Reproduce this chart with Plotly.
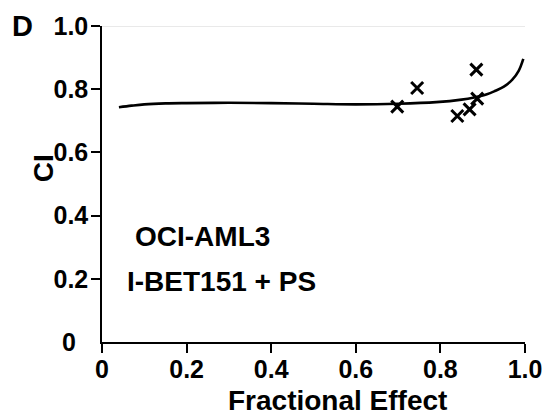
import plotly.graph_objects as go

# Combination index curve (fraction affected vs CI)
curve_fa = [0.04, 0.07, 0.10, 0.15, 0.20, 0.30, 0.40, 0.50, 0.60, 0.70,
            0.79, 0.85, 0.88, 0.91, 0.93, 0.95, 0.97, 0.985, 0.996]
curve_ci = [0.743, 0.748, 0.752, 0.755, 0.756, 0.757, 0.756, 0.754, 0.752, 0.754,
            0.759, 0.767, 0.774, 0.784, 0.795, 0.808, 0.830, 0.858, 0.896]

# Measured combination points
point_fa = [0.698, 0.745, 0.840, 0.869, 0.885, 0.887]
point_ci = [0.745, 0.804, 0.715, 0.736, 0.862, 0.770]

tick_vals = [0.2, 0.4, 0.6, 0.8, 1.0]
tick_text = ["0.2", "0.4", "0.6", "0.8", "1.0"]

FONT = "Liberation Sans, Arial, sans-serif"

fig = go.Figure()
fig.add_trace(go.Scatter(
    x=curve_fa, y=curve_ci, mode="lines",
    line=dict(color="black", width=2.6, shape="spline"),
    cliponaxis=False, showlegend=False, hoverinfo="skip",
))
fig.add_trace(go.Scatter(
    x=point_fa, y=point_ci, mode="markers",
    marker=dict(symbol="x-thin-open", size=12, color="black",
                line=dict(color="black", width=3)),
    cliponaxis=False, showlegend=False,
))

axis_common = dict(
    range=[0, 1], showgrid=False, zeroline=False,
    showline=True, linecolor="black", linewidth=1.5,
    ticks="outside", ticklen=9, tickwidth=1.5, tickcolor="black",
    tickfont=dict(family=FONT, size=25, color="black", weight="bold"),
    fixedrange=True,
)
fig.update_xaxes(**axis_common, tickvals=[0] + tick_vals, ticktext=["0"] + tick_text,
                 ticklabelstandoff=-5)
fig.update_yaxes(**axis_common, tickvals=tick_vals, ticktext=tick_text,
                 ticklabelstandoff=-2)

# Light frame line along the top of the plot
fig.add_shape(type="line", xref="x", yref="y", x0=0, x1=1, y0=1, y1=1,
              line=dict(color="#d4d4d4", width=1), layer="below")
# Origin extensions of both axes
fig.add_shape(type="line", xref="x", yref="y", xsizemode="pixel", xanchor=0,
              x0=-29, x1=0, y0=0, y1=0, line=dict(color="black", width=1.5))
fig.add_shape(type="line", xref="x", yref="y", ysizemode="pixel", yanchor=0,
              x0=0, x1=0, y0=-19, y1=0, line=dict(color="black", width=1.5))

def label(text, x, y, size, xanchor="center", yanchor="middle", textangle=0,
          xref="paper", yref="paper"):
    fig.add_annotation(text=text, x=x, y=y, xref=xref, yref=yref,
                       xanchor=xanchor, yanchor=yanchor, textangle=textangle,
                       showarrow=False,
                       font=dict(family=FONT, size=size, color="black", weight="bold"))

W, H = 554, 417
L, R, T, B = 102, 24, 25, 75
pw, ph = W - L - R, H - T - B

def px(xp):
    return (xp - L) / pw

def py(yp):
    return (H - B - yp) / ph

label("0", px(78), py(342), 25, xanchor="right")
label("D", px(22), py(25), 29)
label("OCI-AML3", px(133), py(236), 28, xanchor="left")
label("I-BET151 + PS", px(125), py(281), 28, xanchor="left")
label("Fractional Effect", px(340), py(401), 28)
label("CI", px(43), py(168), 28, textangle=-90)

fig.update_layout(
    width=W, height=H,
    margin=dict(l=L, r=R, t=T, b=B, pad=0),
    paper_bgcolor="white", plot_bgcolor="white",
    showlegend=False,
)

fig.write_html("out.html")
